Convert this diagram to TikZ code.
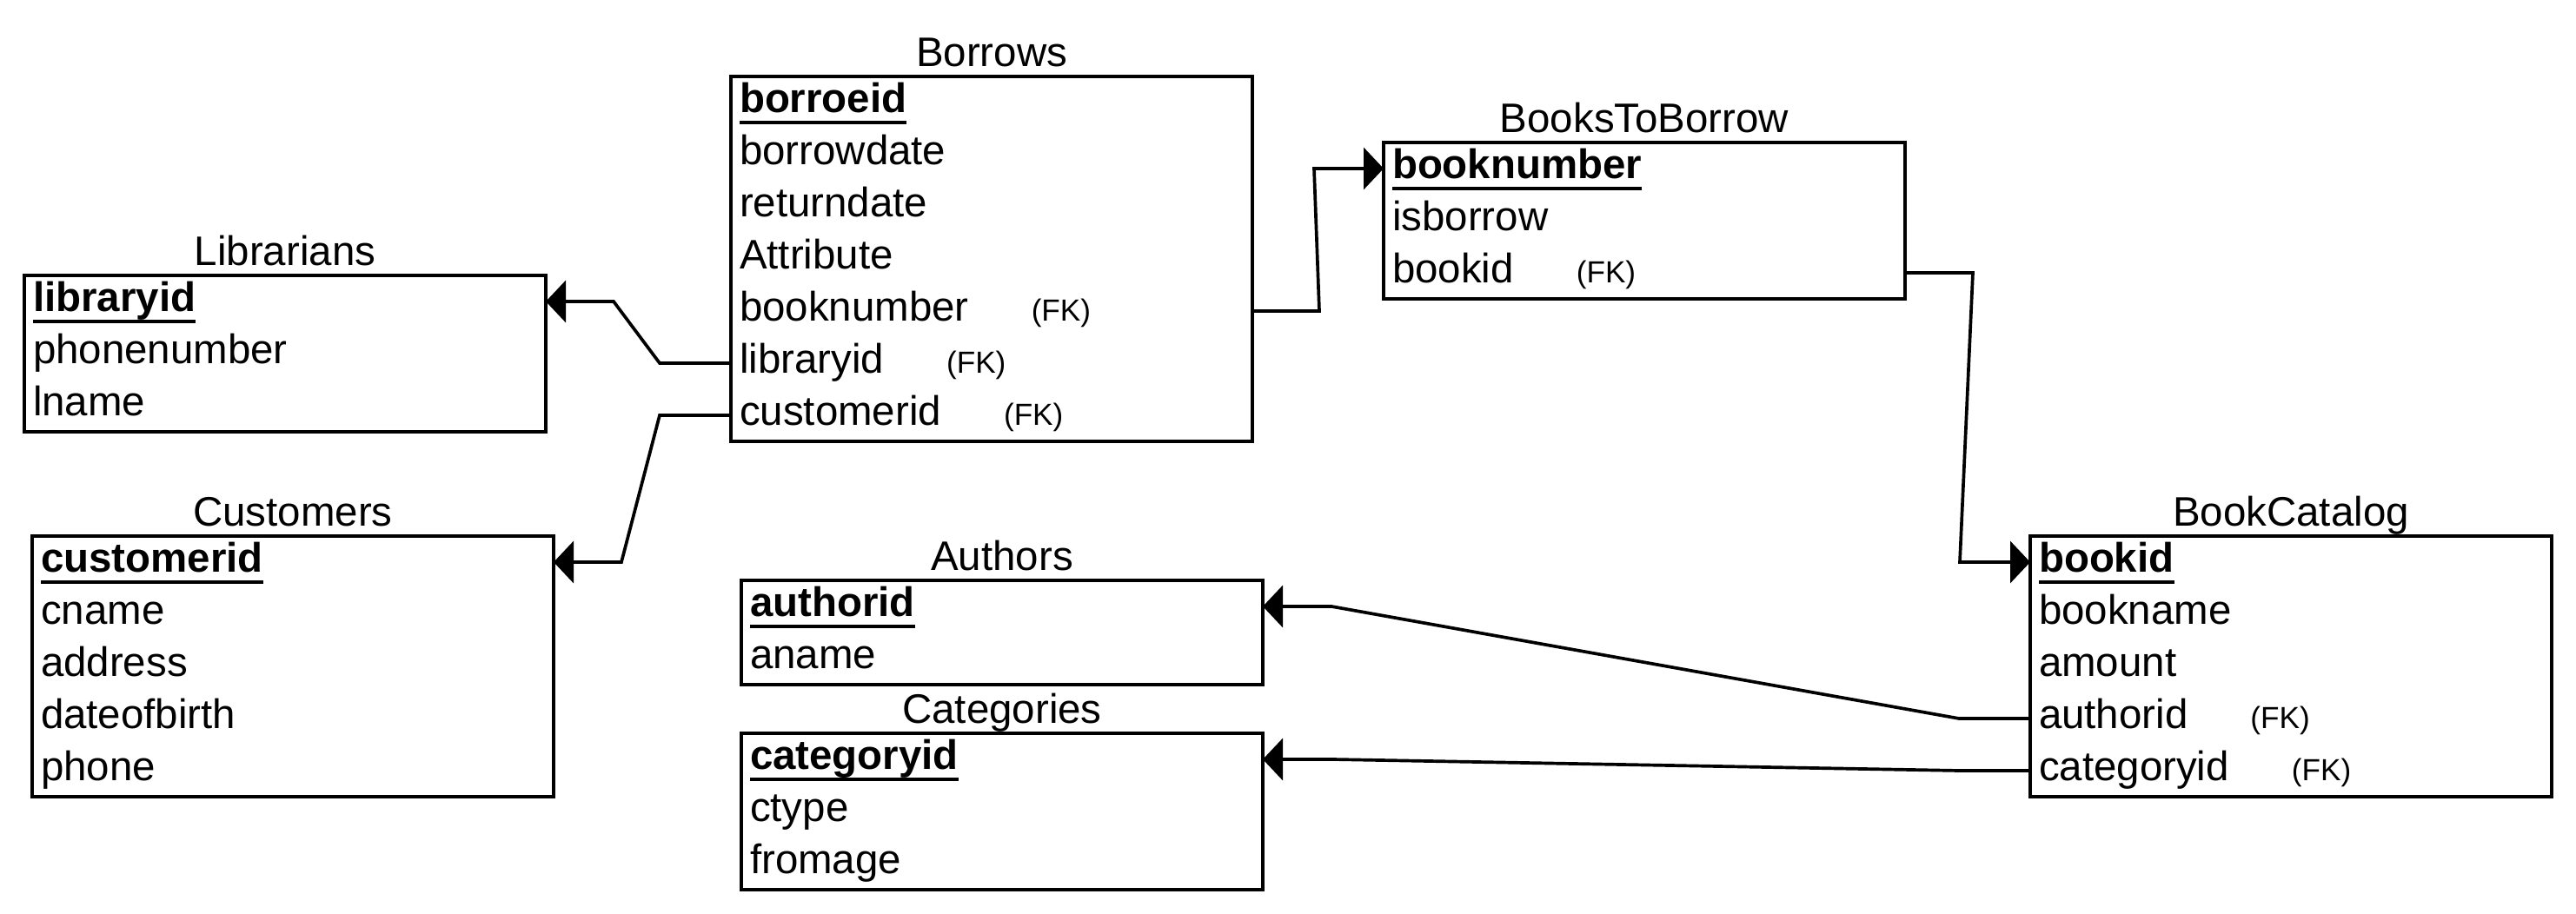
\documentclass[tikz,border=0pt]{standalone}
\usepackage{fontspec}
\setmainfont{Liberation Sans}
\usetikzlibrary{arrows.meta,positioning}

\newcommand{\tablefont}{\fontsize{13.5pt}{16pt}\selectfont}
\newcommand{\fk}{\hspace{0.72cm}{\fontsize{10pt}{12pt}\selectfont(FK)}}
\newcommand{\pkfield}[1]{\leavevmode\setbox0\hbox{\bfseries #1}\rlap{\rule[-3.6pt]{\wd0}{0.95pt}}\box0}

\tikzset{
  tablebox/.style={draw, line width=1.25pt, minimum width=6cm, inner sep=0pt, outer sep=0pt, anchor=north west},
  tabletitle/.style={anchor=base, inner sep=0pt, font=\tablefont},
  field/.style={anchor=north west, inner xsep=0.1cm, inner ysep=0pt, outer sep=0pt,
    text width=5.8cm, align=left, text height=0.42cm, text depth=0.18cm, font=\tablefont},
  fkline/.style={line width=1.05pt, -{Triangle[length=0.23cm,width=0.48cm]}}
}

\begin{document}
\begin{tikzpicture}
  \useasboundingbox (0,0) rectangle (29.64,-10.52);

  % Librarians
  \node[tablebox, minimum height=1.8cm] (librarians) at (0.28,-3.17) {};
  \node[tabletitle] at ([yshift=0.11cm]librarians.north) {Librarians};
  \foreach \f [count=\i] in {{\pkfield{libraryid}}, phonenumber, lname}
    \node[field] (lib\i) at ([yshift={-0.6cm*(\i-1)}]librarians.north west) {\f};

  % Customers
  \node[tablebox, minimum height=3cm] (customers) at (0.37,-6.17) {};
  \node[tabletitle] at ([yshift=0.11cm]customers.north) {Customers};
  \foreach \f [count=\i] in {{\pkfield{customerid}}, cname, address, dateofbirth, phone}
    \node[field] (cus\i) at ([yshift={-0.6cm*(\i-1)}]customers.north west) {\f};

  % Borrows
  \node[tablebox, minimum height=4.2cm] (borrows) at (8.41,-0.88) {};
  \node[tabletitle] at ([yshift=0.11cm]borrows.north) {Borrows};
  \foreach \f [count=\i] in {{\pkfield{borroeid}}, borrowdate, returndate, Attribute,
      {booknumber\fk}, {libraryid\fk}, {customerid\fk}}
    \node[field] (bor\i) at ([yshift={-0.6cm*(\i-1)}]borrows.north west) {\f};

  % BooksToBorrow
  \node[tablebox, minimum height=1.8cm] (bookstoborrow) at (15.92,-1.64) {};
  \node[tabletitle] at ([yshift=0.11cm]bookstoborrow.north) {BooksToBorrow};
  \foreach \f [count=\i] in {{\pkfield{booknumber}}, isborrow, {bookid\fk}}
    \node[field] (btb\i) at ([yshift={-0.6cm*(\i-1)}]bookstoborrow.north west) {\f};

  % Authors
  \node[tablebox, minimum height=1.2cm] (authors) at (8.53,-6.68) {};
  \node[tabletitle] at ([yshift=0.11cm]authors.north) {Authors};
  \foreach \f [count=\i] in {{\pkfield{authorid}}, aname}
    \node[field] (aut\i) at ([yshift={-0.6cm*(\i-1)}]authors.north west) {\f};

  % Categories
  \node[tablebox, minimum height=1.8cm, below=0.56cm of authors.south west, anchor=north west] (categories) {};
  \node[tabletitle] at ([yshift=0.11cm]categories.north) {Categories};
  \foreach \f [count=\i] in {{\pkfield{categoryid}}, ctype, fromage}
    \node[field] (cat\i) at ([yshift={-0.6cm*(\i-1)}]categories.north west) {\f};

  % BookCatalog
  \node[tablebox, minimum height=3cm] (bookcatalog) at (23.36,-6.17) {};
  \node[tabletitle] at ([yshift=0.11cm]bookcatalog.north) {BookCatalog};
  \foreach \f [count=\i] in {{\pkfield{bookid}}, bookname, amount, {authorid\fk}, {categoryid\fk}}
    \node[field] (bc\i) at ([yshift={-0.6cm*(\i-1)}]bookcatalog.north west) {\f};

  % foreign keys
  \draw[fkline] (bor6.west) -- ++(-0.82,0) -- ([xshift=0.78cm]lib1.east) -- (lib1.east);
  \draw[fkline] (bor7.west) -- ++(-0.82,0) -- ([xshift=0.78cm]cus1.east) -- (cus1.east);
  \draw[fkline] (bor5.east) -- ++(0.77,0) -- ([xshift=-0.80cm]btb1.west) -- (btb1.west);
  \draw[fkline] (btb3.east) -- ++(0.78,0) -- ([xshift=-0.81cm]bc1.west) -- (bc1.west);
  \draw[fkline] (bc4.west) -- ++(-0.82,0) -- ([xshift=0.79cm]aut1.east) -- (aut1.east);
  \draw[fkline] (bc5.west) -- ++(-0.82,0) -- ([xshift=0.79cm]cat1.east) -- (cat1.east);
\end{tikzpicture}
\end{document}
